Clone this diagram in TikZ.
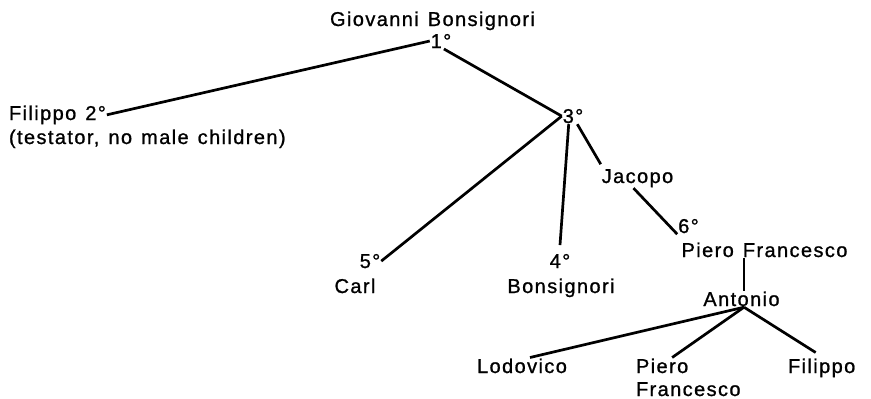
\documentclass[tikz,border=0pt]{standalone}
\usepackage{fontspec}
\setmainfont{Liberation Sans}[LetterSpace=7,WordSpace=1.3,FakeBold=1]
\begin{document}
\begin{tikzpicture}[x=1pt,y=-1pt,
  lbl/.style={inner sep=0pt, outer sep=1pt, font=\fontsize{20}{24}\selectfont},
  link/.style={line width=2.7pt}]
\useasboundingbox (0,0) rectangle (871,399);
% nodes
\node[lbl,anchor=base] (gb) at (432.5,26) {Giovanni Bonsignori};
\node[lbl,anchor=base] (n1) at (441,48) {1°};
\node[lbl,anchor=base west] (f2) at (8,120) {Filippo 2°};
\node[lbl,anchor=base west] (ftest) at (8,144) {(testator, no male children)};
\node[lbl,anchor=base] (n3) at (573,123) {3°};
\node[lbl,anchor=base] (n5) at (370,268) {5°};
\node[lbl,anchor=base] (carl) at (355,293) {Carl};
\node[lbl,anchor=base] (n4) at (560,268) {4°};
\node[lbl,anchor=base] (bons) at (561,293) {Bonsignori};
\node[lbl,anchor=base] (jac) at (637.5,183) {Jacopo};
\node[lbl,anchor=base] (n6) at (688.5,233) {6°};
\node[lbl,anchor=base] (pf) at (764.5,257) {Piero Francesco};
\node[lbl,anchor=base] (ant) at (741.5,306) {Antonio};
\node[lbl,anchor=base] (lod) at (522,373) {Lodovico};
\node[lbl,anchor=base west] (pier2) at (635,373) {Piero};
\node[lbl,anchor=base west] (fran2) at (635,396) {Francesco};
\node[lbl,anchor=base west] (fil2) at (787,373) {Filippo};
% connectors
\draw[link] (n1.west) -- (f2.east);
\draw[link] (n1.-70) -- (n3.west);
\draw[link] (n3.west) -- (n5.east);
\draw[link] (n3.-118) -- ([yshift=8pt]n4.north);
\draw[link] (n3.-62) -- ([yshift=4pt]jac.north west);
\draw[link] ([xshift=-4pt]jac.south) -- (n6.south west);
\draw[link] ([xshift=2.5pt]ant.north) -- ([xshift=2.5pt]ant.north |- pf.south);
\draw[link] ([xshift=2.5pt]ant.south) -- ([xshift=8pt]lod.north);
\draw[link] ([xshift=2.5pt]ant.south) -- ([xshift=10pt]pier2.north);
\draw[link] ([xshift=2.5pt]ant.south) -- ([xshift=-6pt,yshift=5pt]fil2.north);
\end{tikzpicture}
\end{document}
